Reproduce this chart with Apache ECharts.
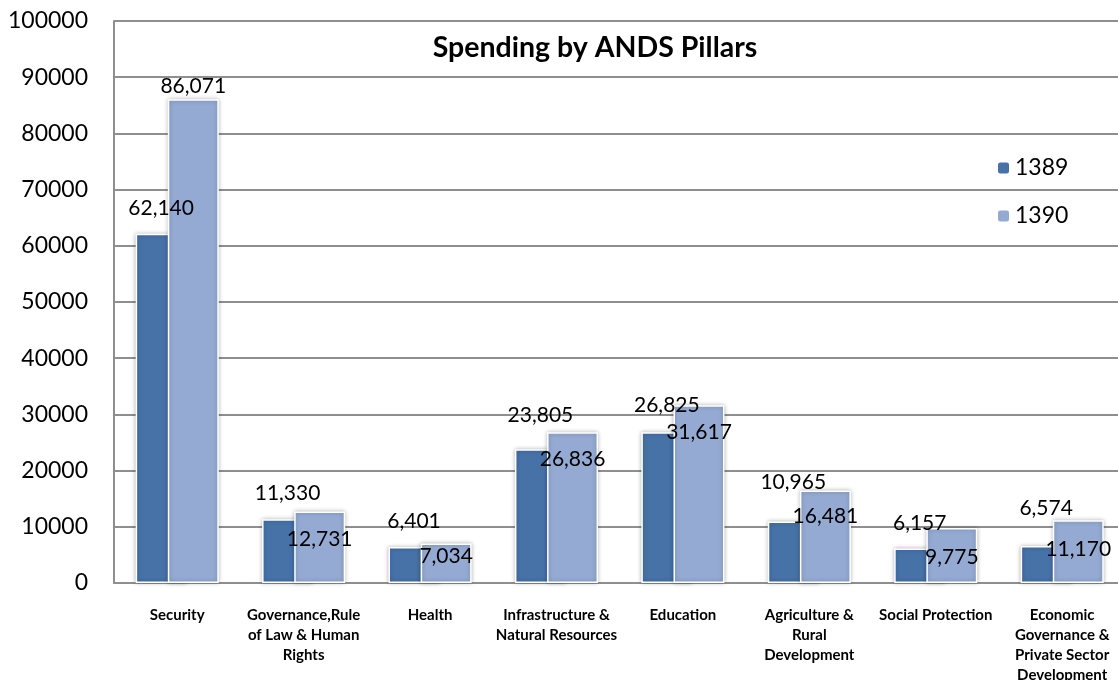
<!DOCTYPE html>
<html>
<head>
<meta charset="utf-8">
<script src="https://cdn.jsdelivr.net/npm/echarts@6/dist/echarts.min.js"></script>
<style>
html,body{margin:0;padding:0;background:#fff;}
#chart{width:1118px;height:680px;}
</style>
</head>
<body>
<div id="chart"></div>
<script>
// ---- data ----
const categories = [
  "Security",
  "Governance,Rule\nof Law & Human\nRights",
  "Health",
  "Infrastructure &\nNatural Resources",
  "Education",
  "Agriculture &\nRural\nDevelopment",
  "Social Protection",
  "Economic\nGovernance &\nPrivate Sector\nDevelopment"
];
const seriesNames = ["1389", "1390"];
const values1389 = [62140, 11330, 6401, 23805, 26825, 10965, 6157, 6574];
const values1390 = [86071, 12731, 7034, 26836, 31617, 16481, 9775, 11170];
const yTicks = [0, 10000, 20000, 30000, 40000, 50000, 60000, 70000, 80000, 90000, 100000];

// label vertical shift (px) relative to each bar's top (negative = above)
const labelShift1389 = [-26, -26, -26, -34, -27, -39, -25, -38];
const labelShift1390 = [-13, 28, 13, 27, 27, 26, 29, 29];

const FONT = 'Lato';
const fmt = v => Number(v).toLocaleString('en-US');

function buildData(vals, shifts) {
  return vals.map((v, i) => ({
    value: v,
    label: { position: ['50%', shifts[i]] }
  }));
}

const barStyle = (color) => ({
  color: color,
  borderColor: '#ffffff',
  borderWidth: 1.5,
  shadowBlur: 4,
  shadowColor: 'rgba(0,0,0,0.28)'
});

const labelStyle = {
  show: true,
  align: 'center',
  verticalAlign: 'middle',
  fontFamily: FONT,
  fontSize: 21,
  color: '#000',
  formatter: p => fmt(p.value)
};

const chart = echarts.init(document.getElementById('chart'), null, {renderer: 'canvas'});
chart.setOption({
  backgroundColor: '#fff',
  animation: false,
  title: {
    text: 'Spending by ANDS Pillars',
    left: 595,
    top: 33,
    padding: 0,
    textAlign: 'center',
    textStyle: { fontFamily: FONT, fontWeight: 'bold', fontSize: 28.5, color: '#000' }
  },
  legend: {
    orient: 'vertical',
    left: 996,
    top: 156,
    padding: 0,
    itemWidth: 13,
    itemHeight: 13,
    itemGap: 24,
    data: seriesNames,
    textStyle: { fontFamily: FONT, fontSize: 23, color: '#000', lineHeight: 24 }
  },
  grid: {
    left: 114, top: 21, width: 1011.4, height: 562,
    containLabel: false, outerBoundsMode: 'none'
  },
  xAxis: {
    type: 'category',
    data: categories,
    axisLine: { show: true, lineStyle: { color: '#8f8f8f', width: 2 } },
    axisTick: { show: false },
    axisLabel: {
      interval: 0, margin: 22, fontFamily: FONT, fontWeight: 'bold',
      fontSize: 15, lineHeight: 20, color: '#000'
    }
  },
  yAxis: {
    type: 'value',
    min: yTicks[0],
    max: yTicks[yTicks.length - 1],
    interval: yTicks[1] - yTicks[0],
    axisLine: { show: true, lineStyle: { color: '#8f8f8f', width: 2 } },
    axisTick: { show: false },
    splitLine: { lineStyle: { color: '#8f8f8f', width: 2 } },
    axisLabel: {
      margin: 26, fontFamily: FONT, fontSize: 23, color: '#000',
      formatter: v => String(v)
    }
  },
  series: [
    {
      name: seriesNames[0], type: 'bar', barWidth: 51, barGap: '-37%',
      data: buildData(values1389, labelShift1389),
      itemStyle: barStyle('#4672A8'),
      label: labelStyle
    },
    {
      name: seriesNames[1], type: 'bar', barWidth: 51, barGap: '-37%',
      data: buildData(values1390, labelShift1390),
      itemStyle: barStyle('#94AAD2'),
      label: labelStyle
    }
  ]
});
</script>
</body>
</html>
